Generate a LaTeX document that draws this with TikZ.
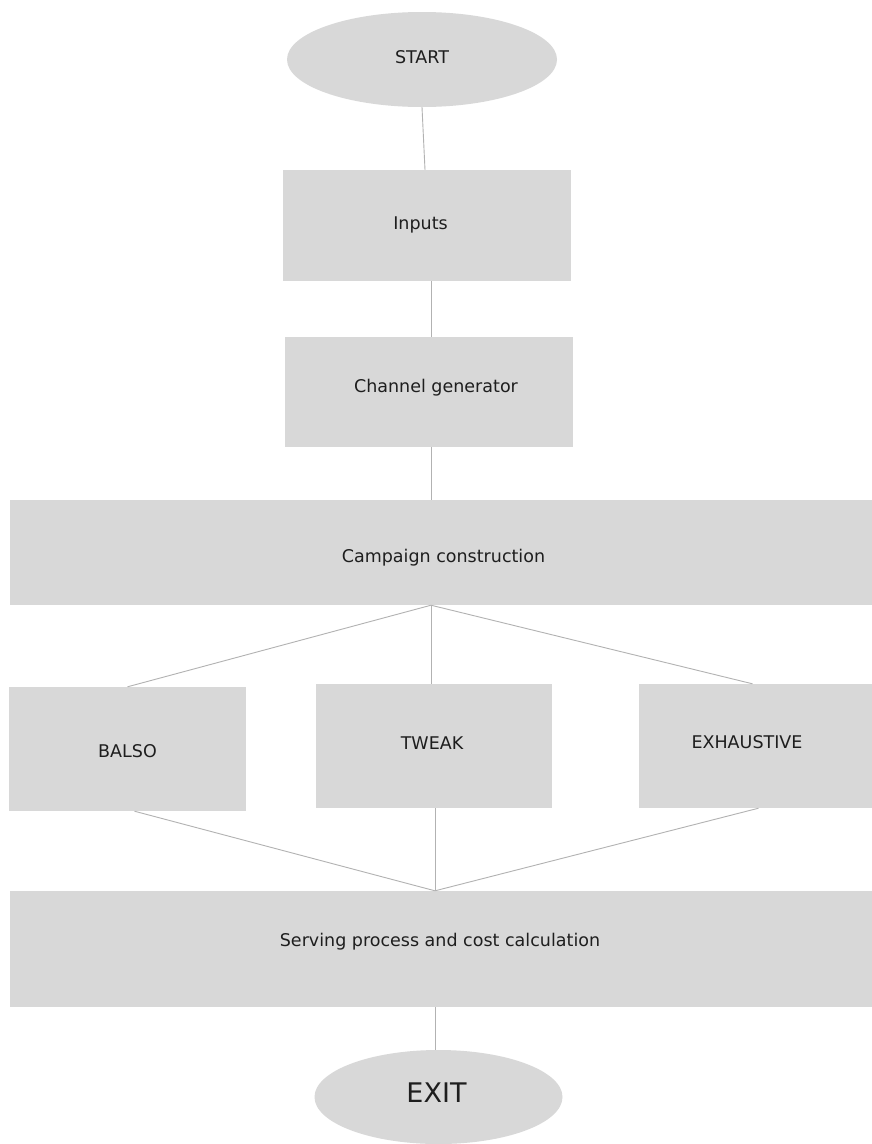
\documentclass[tikz,border=0pt]{standalone}
\usepackage{fontspec}
\setmainfont{DejaVu Sans}
\usetikzlibrary{shapes.geometric,calc}
\definecolor{boxfill}{RGB}{216,216,216}
\definecolor{linkgray}{RGB}{178,178,178}
\definecolor{labeltext}{RGB}{30,30,30}
\tikzset{
  stepbox/.style={rectangle, fill=boxfill, draw=none, inner sep=0pt},
  terminal/.style={ellipse, fill=boxfill, draw=none, inner sep=0pt},
  steplabel/.style={inner sep=0pt, text=labeltext,
    font=\fontsize{17.5}{20}\selectfont, text height=12.8pt, text depth=0pt},
  biglabel/.style={steplabel, font=\fontsize{27}{30}\selectfont, text height=19.7pt},
  link/.style={draw=linkgray, line width=0.9pt}
}
\begin{document}
\begin{tikzpicture}[x=1pt, y=-1pt]
  \useasboundingbox (0,0) rectangle (872,1144);
  \fill[white] (0,0) rectangle (872,1144);

  % terminals
  \node[terminal, minimum width=270, minimum height=95] (start) at (422,59.5) {};
  \node[terminal, minimum width=248, minimum height=94] (exit) at (438.5,1097) {};

  % process steps
  \node[stepbox, minimum width=288, minimum height=111] (inputs)  at (427,225.5) {};
  \node[stepbox, minimum width=288, minimum height=110] (channel) at (429,392) {};
  \node[stepbox, minimum width=862, minimum height=105] (campaign) at (441,552.5) {};
  \node[stepbox, minimum width=237, minimum height=124] (balso) at (127.5,749) {};
  \node[stepbox, minimum width=236, minimum height=124] (tweak) at (434,746) {};
  \node[stepbox, minimum width=233, minimum height=124] (exhaustive) at (755.5,746) {};
  \node[stepbox, minimum width=862, minimum height=116] (serving) at (441,949) {};

  % labels
  \node[steplabel] (start-text)      at (422,57)   {START};
  \node[steplabel] (inputs-text)     at (420.5,223.5) {Inputs};
  \node[steplabel] (channel-text)    at (436,386)  {Channel generator};
  \node[steplabel] (campaign-text)   at (443.5,556) {Campaign construction};
  \node[steplabel] (balso-text)      at (127.5,751) {BALSO};
  \node[steplabel] (tweak-text)      at (432,743)  {TWEAK};
  \node[steplabel] (exhaustive-text) at (747,742)  {EXHAUSTIVE};
  \node[steplabel] (serving-text)    at (440,940)  {Serving process and cost calculation};
  \node[biglabel]  (exit-text)       at (436.5,1093) {EXIT};

  % branch points of the fan-out and fan-in
  \coordinate (split) at ($(campaign.south)+(-10,0)$);
  \coordinate (join)  at ($(serving.north)+(-6,0)$);

  % connectors
  \draw[link] (start.south) -- ([xshift=-2]inputs.north);
  \draw[link] ([xshift=4]inputs.south) -- ([xshift=2]channel.north);
  \draw[link] ([xshift=2]channel.south) -- ([xshift=-10]campaign.north);
  \draw[link] (split) -- (balso.north);
  \draw[link] (split) -- ([xshift=-3]tweak.north);
  \draw[link] (split) -- ([xshift=-3]exhaustive.north);
  \draw[link] ([xshift=7]balso.south) -- (join);
  \draw[link] ([xshift=1]tweak.south) -- (join);
  \draw[link] ([xshift=3]exhaustive.south) -- (join);
  \draw[link] ([xshift=-6]serving.south) -- ([xshift=-3.5]exit.north);
\end{tikzpicture}
\end{document}
